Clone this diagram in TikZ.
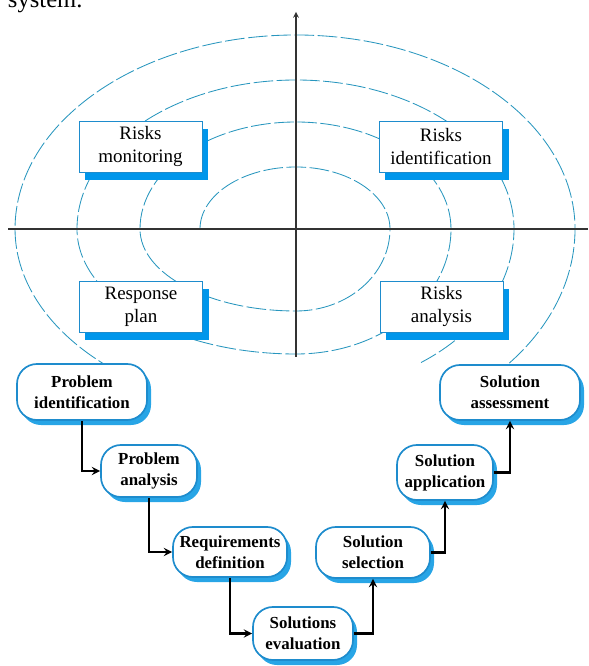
\documentclass[tikz,border=0pt]{standalone}
\usepackage{fontspec}
\setmainfont{Liberation Serif}
\usetikzlibrary{arrows, shadows}

\definecolor{spiralblue}{RGB}{40,150,190}
\definecolor{boxblue}{RGB}{30,140,205}
\definecolor{shadeblue}{RGB}{0,150,235}
\definecolor{pillshade}{RGB}{40,165,230}

\begin{document}
\begin{tikzpicture}[
    x=0.025cm, y=0.025cm,
    spiral/.style={draw=spiralblue, line width=0.6pt, dash pattern=on 14pt off 2.5pt},
    axisline/.style={draw=black!80, line width=0.8pt},
    risk/.style={rectangle, draw=boxblue, line width=0.6pt, fill=white, minimum width=3.075cm, minimum height=1.275cm, align=center, inner sep=1pt, font=\fontsize{13.5}{16.5}\selectfont, drop shadow={shadow xshift=0.15cm, shadow yshift=-0.2cm, fill=shadeblue, opacity=1}},
    pill/.style={rectangle, rounded corners=0.5cm, draw=boxblue, line width=1.2pt, fill=white, align=center, inner sep=1pt, font=\fontsize{12}{15}\selectfont\bfseries, drop shadow={shadow xshift=0.1cm, shadow yshift=-0.125cm, fill=pillshade, opacity=1}},
    arrow/.style={->, >=stealth, line width=1.6pt}
]
\useasboundingbox (0,0) rectangle (588,666);

% Text cut off at the top
\node[anchor=base west, font=\fontsize{17.5}{20}\selectfont] (sys) at (3,658) {system.};

% Spiral
\draw[spiral] (200,437)
    arc[start angle=180, end angle=90, x radius=96, y radius=62]
    arc[start angle=90, end angle=0, x radius=94, y radius=62]
    arc[start angle=0, end angle=-90, x radius=94, y radius=82]
    arc[start angle=-90, end angle=-180, x radius=156, y radius=82]
    arc[start angle=180, end angle=90, x radius=156, y radius=107]
    arc[start angle=90, end angle=0, x radius=155, y radius=107]
    arc[start angle=0, end angle=-90, x radius=155, y radius=125]
    arc[start angle=-90, end angle=-180, x radius=219, y radius=125]
    arc[start angle=180, end angle=90, x radius=219, y radius=149]
    arc[start angle=90, end angle=0, x radius=218, y radius=149]
    arc[start angle=0, end angle=-55, x radius=218, y radius=163];
\draw[spiral] (115.4,295.3)
    arc[start angle=-130, end angle=-180, x radius=281, y radius=185]
    arc[start angle=180, end angle=90, x radius=281, y radius=194]
    arc[start angle=90, end angle=0, x radius=279, y radius=194]
    arc[start angle=0, end angle=-50, x radius=279, y radius=208];

% Axes
\coordinate (ybot) at (296,309);
\coordinate (ytop) at (296,654);
\coordinate (xleft) at (8,437);
\coordinate (xright) at (588,437);
\draw[axisline, ->, >=stealth] (ybot) -- (ytop);
\draw[axisline] (xleft) -- (xright);

% Risk boxes
\node[risk] (monitor) at (140.5,519.5) {Risks\\monitoring};
\node[risk] (ident) at (441,519.5) {Risks\\identification};
\node[risk] (plan) at (141,359.5) {Response\\plan};
\node[risk] (analysis) at (441.5,359.5) {Risks\\analysis};

% Nodes
\node[pill, minimum width=3.25cm, minimum height=1.4cm] (probid) at (82,274) {Problem\\identification};
\node[pill, minimum width=2.4cm, minimum height=1.3cm] (proban) at (149,195) {Problem\\analysis};
\node[pill, minimum width=2.85cm, minimum height=1.25cm] (reqdef) at (230,114) {Requirements\\definition};
\node[pill, minimum width=2.5cm, minimum height=1.325cm] (soleval) at (303,32.5) {Solutions\\evaluation};
\node[pill, minimum width=2.85cm, minimum height=1.275cm] (solsel) at (373,113.5) {Solution\\selection};
\node[pill, minimum width=2.4cm, minimum height=1.375cm] (solapp) at (445,193.5) {Solution\\application};
\node[pill, minimum width=3.5cm, minimum height=1.375cm] (solass) at (510,273.5) {Solution\\assessment};

% Connections
\draw[arrow] (probid) |- (proban);
\draw[arrow] (proban) |- (reqdef);
\draw[arrow] (reqdef) |- (soleval);
\draw[arrow] (soleval) -| (solsel);
\draw[arrow] (solsel) -| (solapp);
\draw[arrow] (solapp) -| (solass);

\end{tikzpicture}
\end{document}
